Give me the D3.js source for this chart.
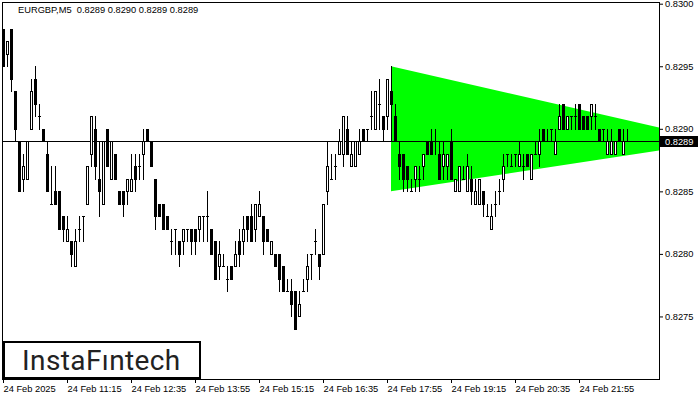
<!DOCTYPE html>
<html><head><meta charset="utf-8">
<script src="https://cdn.jsdelivr.net/npm/d3@7"></script>
<style>
html,body{margin:0;padding:0;background:#fff;}
svg{display:block;}
</style></head><body>
<svg id="chart" width="700" height="400"></svg>
<script>
const chartTitle = "EURGBP,M5  0.8289 0.8290 0.8289 0.8289";
const logoText = "InstaFıntech";
const opens = [0.8298,0.8296,0.8298,0.8293,0.8289,0.8286,0.8286,0.8290,0.8294,0.8291,
0.8290,0.8288,0.8284,0.8285,0.8285,0.8283,0.8281,0.8281,0.8279,0.8282,
0.8283,0.8284,0.8288,0.8290,0.8286,0.8284,0.8290,0.8286,0.8288,0.8285,
0.8285,0.8285,0.8285,0.8287,0.8287,0.8288,0.8290,0.8289,0.8286,0.8284,
0.8284,0.8283,0.8281,0.8282,0.8281,0.8281,0.8282,0.8282,0.8282,0.8282,
0.8283,0.8283,0.8282,0.8281,0.8279,0.8279,0.8278,0.8279,0.8279,0.8281,
0.8281,0.8283,0.8283,0.8282,0.8283,0.8283,0.8282,0.8280,0.8280,0.8280,
0.8279,0.8277,0.8277,0.8277,0.8275,0.8277,0.8278,0.8280,0.8281,0.8280,
0.8280,0.8285,0.8286,0.8287,0.8288,0.8288,0.8290,0.8287,0.8287,0.8288,
0.8290,0.8290,0.8291,0.8290,0.8292,0.8291,0.8291,0.8293,0.8291,0.8288,
0.8288,0.8287,0.8285,0.8286,0.8286,0.8287,0.8289,0.8289,0.8289,0.8288,
0.8287,0.8287,0.8289,0.8285,0.8285,0.8286,0.8285,0.8286,0.8284,0.8284,
0.8285,0.8283,0.8282,0.8284,0.8285,0.8286,0.8288,0.8287,0.8288,0.8287,
0.8287,0.8288,0.8286,0.8288,0.8288,0.8290,0.8289,0.8290,0.8288,0.8290,
0.8292,0.8290,0.8291,0.8291,0.8292,0.8291,0.8291,0.8291,0.8291,0.8290,
0.8290,0.8288,0.8288,0.8288,0.8290,0.8288,0.8289];
const highs = [0.8298,0.8297,0.8298,0.8293,0.8289,0.8288,0.8289,0.8294,0.8295,0.8292,
0.8290,0.8289,0.8287,0.8287,0.8285,0.8283,0.8283,0.8281,0.8282,0.8283,
0.8283,0.8287,0.8291,0.8291,0.8289,0.8289,0.8290,0.8289,0.8288,0.8285,
0.8285,0.8286,0.8288,0.8288,0.8288,0.8290,0.8290,0.8289,0.8286,0.8284,
0.8284,0.8283,0.8282,0.8282,0.8281,0.8282,0.8282,0.8282,0.8282,0.8283,
0.8283,0.8285,0.8282,0.8281,0.8281,0.8280,0.8279,0.8279,0.8281,0.8282,
0.8283,0.8283,0.8284,0.8284,0.8285,0.8283,0.8282,0.8281,0.8280,0.8280,
0.8279,0.8278,0.8278,0.8277,0.8277,0.8278,0.8280,0.8280,0.8282,0.8280,
0.8284,0.8289,0.8288,0.8288,0.8290,0.8291,0.8291,0.8289,0.8289,0.8290,
0.8290,0.8290,0.8293,0.8293,0.8294,0.8291,0.8294,0.8295,0.8292,0.8289,
0.8288,0.8287,0.8286,0.8287,0.8287,0.8288,0.8289,0.8290,0.8290,0.8289,
0.8289,0.8288,0.8290,0.8286,0.8287,0.8287,0.8288,0.8287,0.8286,0.8286,
0.8285,0.8284,0.8284,0.8285,0.8286,0.8288,0.8288,0.8288,0.8288,0.8289,
0.8288,0.8288,0.8288,0.8289,0.8290,0.8290,0.8290,0.8290,0.8290,0.8292,
0.8292,0.8291,0.8291,0.8292,0.8292,0.8291,0.8291,0.8292,0.8292,0.8290,
0.8290,0.8290,0.8290,0.8289,0.8290,0.8290,0.8290];
const lows = [0.8295,0.8295,0.8293,0.8289,0.8285,0.8285,0.8286,0.8290,0.8291,0.8290,
0.8289,0.8285,0.8284,0.8284,0.8282,0.8281,0.8281,0.8279,0.8279,0.8281,
0.8281,0.8284,0.8287,0.8286,0.8283,0.8284,0.8287,0.8286,0.8286,0.8284,
0.8283,0.8284,0.8285,0.8285,0.8286,0.8286,0.8289,0.8287,0.8282,0.8283,
0.8282,0.8282,0.8280,0.8280,0.8279,0.8280,0.8281,0.8280,0.8280,0.8281,
0.8281,0.8281,0.8280,0.8278,0.8278,0.8279,0.8277,0.8278,0.8279,0.8279,
0.8280,0.8281,0.8281,0.8281,0.8283,0.8280,0.8281,0.8280,0.8279,0.8277,
0.8277,0.8277,0.8275,0.8274,0.8275,0.8277,0.8277,0.8278,0.8280,0.8278,
0.8280,0.8284,0.8286,0.8286,0.8288,0.8287,0.8288,0.8287,0.8287,0.8288,
0.8289,0.8289,0.8290,0.8290,0.8290,0.8289,0.8290,0.8289,0.8289,0.8286,
0.8285,0.8285,0.8285,0.8285,0.8285,0.8286,0.8288,0.8288,0.8288,0.8286,
0.8286,0.8286,0.8286,0.8285,0.8285,0.8286,0.8285,0.8284,0.8284,0.8284,
0.8283,0.8283,0.8282,0.8283,0.8284,0.8285,0.8287,0.8287,0.8287,0.8287,
0.8286,0.8287,0.8286,0.8288,0.8287,0.8289,0.8289,0.8289,0.8288,0.8290,
0.8290,0.8290,0.8290,0.8290,0.8290,0.8290,0.8290,0.8290,0.8290,0.8289,
0.8289,0.8288,0.8288,0.8288,0.8289,0.8288,0.8289];
const closes = [0.8295,0.8297,0.8294,0.8290,0.8285,0.8287,0.8289,0.8293,0.8292,0.8291,
0.8289,0.8285,0.8284,0.8284,0.8282,0.8282,0.8282,0.8280,0.8281,0.8282,
0.8283,0.8287,0.8291,0.8287,0.8285,0.8289,0.8287,0.8289,0.8286,0.8284,
0.8284,0.8286,0.8286,0.8286,0.8287,0.8289,0.8289,0.8287,0.8283,0.8283,
0.8282,0.8282,0.8281,0.8282,0.8280,0.8282,0.8282,0.8281,0.8281,0.8283,
0.8283,0.8283,0.8280,0.8278,0.8280,0.8279,0.8278,0.8278,0.8280,0.8280,
0.8282,0.8282,0.8281,0.8284,0.8284,0.8281,0.8281,0.8281,0.8279,0.8278,
0.8277,0.8277,0.8276,0.8274,0.8276,0.8277,0.8279,0.8280,0.8281,0.8279,
0.8284,0.8287,0.8286,0.8287,0.8289,0.8291,0.8288,0.8288,0.8289,0.8289,
0.8289,0.8290,0.8291,0.8293,0.8292,0.8290,0.8294,0.8292,0.8289,0.8287,
0.8286,0.8286,0.8285,0.8287,0.8286,0.8288,0.8288,0.8288,0.8289,0.8286,
0.8288,0.8288,0.8286,0.8286,0.8287,0.8286,0.8287,0.8285,0.8285,0.8286,
0.8284,0.8283,0.8283,0.8284,0.8285,0.8287,0.8288,0.8287,0.8288,0.8288,
0.8287,0.8287,0.8288,0.8288,0.8289,0.8289,0.8289,0.8290,0.8289,0.8291,
0.8290,0.8291,0.8291,0.8291,0.8290,0.8290,0.8290,0.8292,0.8291,0.8289,
0.8290,0.8289,0.8289,0.8289,0.8289,0.8289,0.8289];
const timeLabels = ["24 Feb 2025","24 Feb 11:15","24 Feb 12:35","24 Feb 13:55","24 Feb 15:15","24 Feb 16:35","24 Feb 17:55","24 Feb 19:15","24 Feb 20:35","24 Feb 21:55"];
const timeLabelBars = [0,16,32,48,64,80,96,112,128,144];
const priceTicks = [0.8275,0.8280,0.8285,0.8290,0.8295,0.8300];
const currentPrice = 0.8289;
const triangleBars = [97,179,97];
const trianglePrices = [0.8295,0.8289,0.8285];

const svg = d3.select("#chart");
const L = 2, T = 2, R = 659, B = 379;
const x = d3.scaleLinear().domain([0,164]).range([3,659]);
const y = d3.scaleLinear().domain([0.8270,0.8300]).range([379,3.7]);
const py = p => Math.round(y(p));
const FONT = '"Liberation Sans", Arial, sans-serif';

svg.append("rect").attr("width",700).attr("height",400).attr("fill","#fff");
svg.append("clipPath").attr("id","plotclip").append("rect")
  .attr("x",L).attr("y",T).attr("width",R-L).attr("height",B-T);

// triangle pattern
svg.append("path")
  .attr("clip-path","url(#plotclip)")
  .attr("d", d3.line()(triangleBars.map((b,i)=>[x(b), y(trianglePrices[i])])) + "Z")
  .attr("fill","#00ff00");

// current price line
svg.append("line").attr("x1",L).attr("x2",R)
  .attr("y1",py(currentPrice)+0.5).attr("y2",py(currentPrice)+0.5)
  .attr("stroke","#000").attr("stroke-width",1).attr("shape-rendering","crispEdges");

// candles
const bars = d3.range(opens.length).map(i=>({i,o:opens[i],h:highs[i],l:lows[i],c:closes[i]}));
const g = svg.append("g").attr("shape-rendering","crispEdges").attr("clip-path","url(#plotclip)");
const cg = g.selectAll("g.c").data(bars).join("g").attr("class","c");
cg.append("rect")
  .attr("x",d=>Math.round(x(d.i)))
  .attr("y",d=>py(d.h))
  .attr("width",1)
  .attr("height",d=>py(d.l)-py(d.h)+1)
  .attr("fill","#000");
cg.each(function(d){
  const s = d3.select(this);
  const cx = Math.round(x(d.i));
  const yo = py(d.o), yc = py(d.c);
  if (d.c > d.o) {
    s.append("rect").attr("x",cx-0.5).attr("y",yc+0.5).attr("width",2).attr("height",yo-yc)
      .attr("fill","#fff").attr("stroke","#000").attr("stroke-width",1);
  } else if (d.c < d.o) {
    s.append("rect").attr("x",cx-1).attr("y",yo).attr("width",3).attr("height",yc-yo+1).attr("fill","#000");
  } else {
    s.append("rect").attr("x",cx-1).attr("y",yo).attr("width",3).attr("height",1).attr("fill","#000");
  }
});

// frame
svg.append("rect").attr("x",L+0.5).attr("y",T+0.5).attr("width",R-L).attr("height",B-T)
  .attr("fill","none").attr("stroke","#000").attr("stroke-width",1).attr("shape-rendering","crispEdges");

// right price axis
const ya = svg.append("g").attr("transform",`translate(${R},0)`)
  .call(d3.axisRight(y).tickValues(priceTicks).tickSize(4).tickFormat(d3.format(".4f")));
ya.select(".domain").remove();
ya.selectAll("line").attr("stroke","#000");
ya.selectAll("text").attr("x",6).attr("dy","0.33em").attr("fill","#000")
  .style("font-family",FONT).style("font-size","9.3px");

// current price box
const cp = py(currentPrice);
svg.append("rect").attr("x",R+1).attr("y",cp-5).attr("width",38).attr("height",11).attr("fill","#000");
svg.append("text").attr("x",R+6).attr("y",cp+4).attr("fill","#fff")
  .style("font-family",FONT).style("font-size","9.3px").text(d3.format(".4f")(currentPrice));

// bottom time axis
const xa = svg.append("g").attr("transform",`translate(0,${B})`)
  .call(d3.axisBottom(x).tickValues(timeLabelBars).tickSize(4).tickFormat((d,i)=>timeLabels[i]));
xa.select(".domain").remove();
xa.selectAll("line").attr("stroke","#000");
xa.selectAll("text").attr("y",13).attr("dy",0).attr("x",0).attr("text-anchor","start").attr("fill","#000")
  .style("font-family",FONT).style("font-size","9.3px");

// title
svg.append("text").attr("x",18).attr("y",13).attr("fill","#000")
  .style("font-family",FONT).style("font-size","9.3px").style("white-space","pre")
  .text(chartTitle);

// logo
svg.append("rect").attr("x",4).attr("y",342).attr("width",196).attr("height",36)
  .attr("fill","#fff").attr("stroke","#000").attr("stroke-width",2);
svg.append("text").attr("x",22).attr("y",370).attr("fill","#222")
  .style("font-family","Roboto, sans-serif").style("font-size","28px").style("font-weight",400)
  .style("letter-spacing","0.4px")
  .text(logoText);
</script>
</body></html>
